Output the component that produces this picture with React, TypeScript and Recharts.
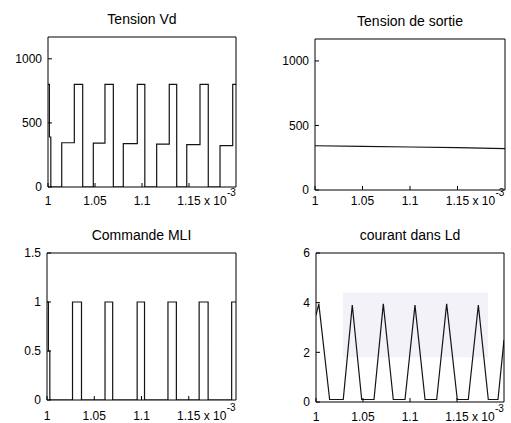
import React from 'react';
import { LineChart, Line, XAxis, YAxis, ReferenceArea } from 'recharts';

const W = 511;
const H = 423;
const FONT = '"Liberation Sans", Arial, sans-serif';

const xTicks = [1, 1.05, 1.1, 1.15];
const voltTicks = [0, 500, 1000];
const mliTicks = [0, 0.5, 1, 1.5];
const courantTicks = [0, 2, 4, 6];

// Tension Vd : instants de commutation (x 10^-3 s), valeur tenue jusqu'au point suivant
const vdTime = [1, 1.0015, 1.003, 1.0146, 1.028, 1.0369, 1.0482, 1.0606, 1.0695, 1.0801, 1.095, 1.103, 1.1156, 1.129, 1.1369, 1.1476, 1.1617, 1.1705, 1.183, 1.1965, 1.2];
const vdValue = [800, 390, 0, 345, 800, 0, 342, 800, 0, 338, 800, 0, 335, 800, 0, 330, 800, 0, 322, 800, 800];

// Tension de sortie
const voutTime = [1, 1.05, 1.1, 1.15, 1.2];
const voutValue = [343, 338, 333, 328, 321];

// Commande MLI
const mliTime = [1, 1.0015, 1.003, 1.027, 1.0365, 1.0614, 1.0695, 1.0954, 1.1032, 1.128, 1.1369, 1.161, 1.1705, 1.1954, 1.2];
const mliValue = [1, 0.5, 0, 1, 0, 1, 0, 1, 0, 1, 0, 1, 0, 1, 1];

// courant dans Ld
const iTime = [1, 1.003, 1.0145, 1.029, 1.0386, 1.0486, 1.0617, 1.0716, 1.0822, 1.0947, 1.1053, 1.116, 1.1284, 1.139, 1.1503, 1.162, 1.1727, 1.1833, 1.1936, 1.2];
const iValue = [3.5, 3.95, 0.1, 0.1, 3.9, 0.1, 0.1, 3.95, 0.1, 0.1, 3.9, 0.1, 0.1, 3.95, 0.1, 0.1, 3.9, 0.1, 0.1, 2.5];

const toRows = (ts: number[], vs: number[]) => ts.map((t, i) => ({ t, v: vs[i] }));

type Box = { x0: number; y0: number; x1: number; y1: number };

interface PanelProps {
  box: Box;
  title: string;
  rows: { t: number; v: number }[];
  yMax: number;
  yTicks: number[];
  step?: boolean;
  labelGap: number;
  children?: React.ReactNode;
}

function Panel({ box, title, rows, yMax, yTicks, step, labelGap, children }: PanelProps) {
  const margin = {
    top: box.y0 - 1,
    left: box.x0 - 40,
    right: W - box.x1 - 1,
    bottom: H - box.y1 - 20,
  };
  const tickStyle = { fontSize: 12, fill: '#000', fontFamily: FONT };
  const cx = (box.x0 + box.x1) / 2;
  const tick115 = box.x0 + ((1.15 - 1) / 0.2) * (box.x1 - box.x0);
  const labelTop = box.y1 - 4 + labelGap;
  return (
    <>
      <div
        style={{
          position: 'absolute',
          left: cx - 100,
          width: 200,
          top: box.y0 - 26,
          textAlign: 'center',
          fontFamily: FONT,
          fontSize: 14,
          lineHeight: '16px',
          color: '#000',
        }}
      >
        {title}
      </div>
      <div style={{ position: 'absolute', left: 0, top: 0 }}>
        <LineChart width={W} height={H} data={rows} margin={margin}>
          {children}
          <XAxis
            xAxisId="b"
            dataKey="t"
            type="number"
            domain={[1, 1.2]}
            allowDataOverflow
            ticks={xTicks}
            interval={0}
            height={20}
            tickSize={-4}
            tickMargin={labelGap}
            tick={tickStyle}
            tickFormatter={(v: number) => String(v)}
            axisLine={{ stroke: '#000' }}
            tickLine={{ stroke: '#000' }}
          />
          <XAxis
            xAxisId="t"
            orientation="top"
            dataKey="t"
            type="number"
            domain={[1, 1.2]}
            allowDataOverflow
            ticks={xTicks}
            interval={0}
            height={1}
            tickSize={-4}
            tick={false}
            axisLine={{ stroke: '#000' }}
            tickLine={{ stroke: '#000' }}
          />
          <YAxis
            yAxisId="l"
            type="number"
            domain={[0, yMax]}
            allowDataOverflow
            ticks={yTicks}
            interval={0}
            width={40}
            tickSize={-4}
            tickMargin={10}
            tick={tickStyle}
            axisLine={{ stroke: '#000' }}
            tickLine={{ stroke: '#000' }}
          />
          <YAxis
            yAxisId="r"
            orientation="right"
            type="number"
            domain={[0, yMax]}
            allowDataOverflow
            ticks={yTicks}
            interval={0}
            width={1}
            tickSize={-4}
            tick={false}
            axisLine={{ stroke: '#000' }}
            tickLine={{ stroke: '#000' }}
          />
          <Line
            xAxisId="b"
            yAxisId="l"
            dataKey="v"
            type={step ? 'stepAfter' : 'linear'}
            stroke="#141414"
            strokeWidth={1.2}
            dot={false}
            isAnimationActive={false}
          />
        </LineChart>
      </div>
      <div
        style={{
          position: 'absolute',
          left: tick115 + 15,
          top: labelTop - 1.5,
          fontFamily: FONT,
          fontSize: 12,
          lineHeight: '12px',
          whiteSpace: 'pre',
        }}
      >
        x 10
      </div>
      <div
        style={{
          position: 'absolute',
          left: tick115 + 38,
          top: labelTop - 8,
          fontFamily: FONT,
          fontSize: 10,
          lineHeight: '10px',
        }}
      >
        -3
      </div>
    </>
  );
}

export default function App() {
  return (
    <div
      style={{
        position: 'absolute',
        left: 0,
        top: 0,
        width: W,
        height: H,
        overflow: 'hidden',
        background: '#fff',
      }}
    >
      <Panel
        box={{ x0: 48, y0: 37, x1: 236, y1: 187 }}
        title="Tension Vd"
        rows={toRows(vdTime, vdValue)}
        yMax={1170}
        yTicks={voltTicks}
        step
        labelGap={13}
      />
      <Panel
        box={{ x0: 315, y0: 39, x1: 505, y1: 190 }}
        title="Tension de sortie"
        rows={toRows(voutTime, voutValue)}
        yMax={1170}
        yTicks={voltTicks}
        labelGap={10}
      />
      <Panel
        box={{ x0: 47, y0: 253, x1: 236, y1: 400 }}
        title="Commande MLI"
        rows={toRows(mliTime, mliValue)}
        yMax={1.5}
        yTicks={mliTicks}
        step
        labelGap={15}
      />
      <Panel
        box={{ x0: 316, y0: 253, x1: 504, y1: 402 }}
        title="courant dans Ld"
        rows={toRows(iTime, iValue)}
        yMax={6}
        yTicks={courantTicks}
        labelGap={14}
      >
        <ReferenceArea
          xAxisId="b"
          yAxisId="l"
          x1={1.0287}
          x2={1.183}
          y1={1.8}
          y2={4.4}
          fill="#c4c4de"
          fillOpacity={0.22}
          stroke="none"
        />
      </Panel>
    </div>
  );
}
